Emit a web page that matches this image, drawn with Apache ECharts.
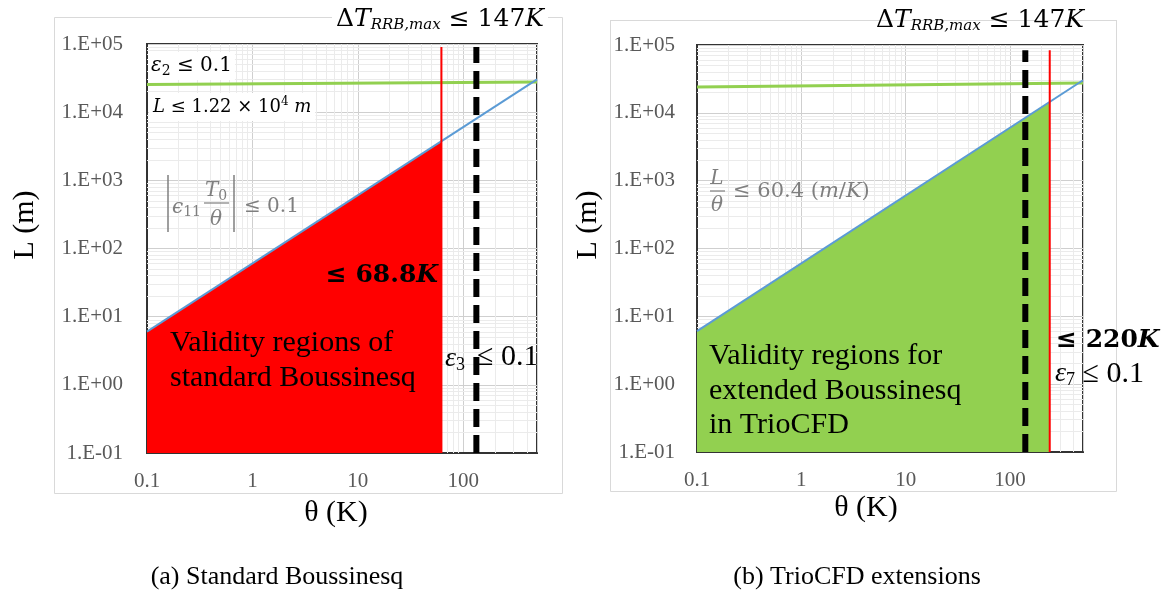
<!DOCTYPE html>
<html>
<head>
<meta charset="utf-8">
<script src="https://cdn.jsdelivr.net/npm/echarts@6/dist/echarts.min.js"></script>
<style>
html,body{margin:0;padding:0;background:#fff;}
#chart{width:1169px;height:597px;}
</style>
</head>
<body>
<div id="chart"></div>
<script>
// ---------- data ----------
const thetaRange = [0.1, 500];
const lengthRange = [0.1, 100000];
const minorMultipliers = [2, 3, 4, 5, 6, 7, 8, 9];
const thetaDecades = [0.1, 1, 10, 100];
const lengthDecades = [0.1, 1, 10, 100, 1000, 10000];

// (a) Standard Boussinesq
const blueA = [[0.1, 6.04], [500, 30200]];
const greenA = [[0.1, 25500], [500, 27800]];
const fillA = [[0.1, 6.04], [62, 3745]];
const redA = [[62, 0.1], [62, 90000]];
const dashA = [[133, 0.1], [133, 90000]];

// (b) TrioCFD extensions
const blueB = [[0.1, 6.04], [500, 30200]];
const greenB = [[0.1, 24000], [500, 27500]];
const fillB = [[0.1, 6.04], [240, 14500]];
const redB = [[240, 0.1], [240, 84000]];
const dashB = [[140, 0.1], [140, 84000]];

const captions = ['(a) Standard Boussinesq', '(b) TrioCFD extensions'];

// ---------- helpers ----------
const SERIF = '"Liberation Serif", "DejaVu Serif", serif';
const DJ = '"DejaVu Serif", "Liberation Serif", serif';

function minorValues(decades, maxV) {
  const out = [];
  decades.forEach(d => minorMultipliers.forEach(m => {
    const v = +(d * m).toPrecision(6);
    if (v < maxV) out.push(v);
  }));
  return out;
}
const minorX = minorValues(thetaDecades, thetaRange[1]);
const minorY = minorValues(lengthDecades, lengthRange[1]);

function fmtY(v) {
  const e = Math.round(Math.log10(v));
  const a = Math.abs(e);
  return '1.E' + (e < 0 ? '-' : '+') + (a < 10 ? '0' : '') + a;
}
function fmtX(v) {
  const e = Math.round(Math.log10(v));
  return e < 0 ? '0.1' : String(Math.pow(10, e));
}

const grids = [
  {left: 147, top: 44, width: 390, height: 409},
  {left: 697, top: 45, width: 386, height: 407}
];

function xAx(i) {
  return {
    type: 'log', logBase: 10, gridIndex: i, min: thetaRange[0], max: thetaRange[1],
    axisLine: {show: true, onZero: false, lineStyle: {color: '#333', width: 2}},
    axisTick: {show: false},
    axisLabel: {margin: 18, showMaxLabel: false, formatter: fmtX,
      fontFamily: SERIF, fontSize: 21, color: '#595959'},
    splitLine: {show: true, lineStyle: {color: '#cfcfcf', width: 1}}
  };
}
function yAx(i, margin) {
  return {
    type: 'log', logBase: 10, gridIndex: i, min: lengthRange[0], max: lengthRange[1],
    axisLine: {show: true, onZero: false, lineStyle: {color: '#333', width: 2}},
    axisTick: {show: false},
    axisLabel: {margin: margin, formatter: fmtY, fontFamily: SERIF, fontSize: 21, color: '#595959'},
    splitLine: {show: true, lineStyle: {color: '#cfcfcf', width: 1}}
  };
}

function seriesFor(i, blue, green, fill, red, dash, fillColor) {
  const base = {type: 'line', xAxisIndex: i, yAxisIndex: i, showSymbol: false, symbol: 'none',
    silent: true, animation: false};
  return [
    Object.assign({}, base, {
      z: 1, data: [[0.1, 0.1]], lineStyle: {opacity: 0},
      markLine: {silent: true, z: 1, symbol: 'none', animation: false, label: {show: false},
        lineStyle: {color: '#ebebeb', width: 1, type: 'solid'},
        emphasis: {disabled: true},
        data: minorX.map(v => ({xAxis: v})).concat(minorY.map(v => ({yAxis: v})))}
    }),
    Object.assign({}, base, {z: 2, data: fill, lineStyle: {width: 0},
      areaStyle: {color: fillColor, opacity: 1, origin: 'start'}}),
    Object.assign({}, base, {z: 3, data: green, lineStyle: {color: '#92d050', width: 3}}),
    Object.assign({}, base, {z: 4, data: blue, lineStyle: {color: '#5b9bd5', width: 2}}),
    Object.assign({}, base, {z: 5, data: red, lineStyle: {color: '#ff0000', width: 2}}),
    Object.assign({}, base, {z: 6, data: dash, lineStyle: {color: '#000', width: 6, type: [18, 8]}})
  ];
}

function R(size, family, extra) {
  return Object.assign({fontSize: size, fontFamily: family, fill: '#000'}, extra || {});
}
function T(x, y, text, rich, extra, rot) {
  const el = {type: 'text', x: x, y: y, z: 100, silent: true,
    style: Object.assign({text: text, rich: rich || {}, fill: '#000', align: 'left',
      verticalAlign: 'middle', font: '20px ' + SERIF}, extra || {})};
  if (rot) el.rotation = rot;
  return el;
}
function L(x1, y1, x2, y2, color, w) {
  return {type: 'line', z: 100, silent: true, shape: {x1, y1, x2, y2},
    style: {stroke: color, lineWidth: w}};
}

const gray = '#7f7f7f';

const dtRich = {
  d: R(25, DJ), t: R(25, DJ, {fontStyle: 'italic'}),
  s: R(15, DJ, {fontStyle: 'italic', padding: [12, 0, 0, 0]})
};
const dtText = '{d|Δ}{t|T}{s|RRB,max}{d| ≤ 147}{t|K}';

const graphics = [
  // panel frames
  {type: 'rect', z: -1, shape: {x: 54.5, y: 17.5, width: 508, height: 476},
    style: {fill: '#fff', stroke: '#d9d9d9', lineWidth: 1}},
  {type: 'rect', z: -1, shape: {x: 610.5, y: 20.5, width: 506, height: 471},
    style: {fill: '#fff', stroke: '#d9d9d9', lineWidth: 1}},
  // right frame top edge over the title text
  L(610, 20.5, 1117, 20.5, '#d9d9d9', 1),

  // axis names
  T(25, 225, 'L (m)', null, {font: '30px ' + SERIF, align: 'center'}, Math.PI / 2),
  T(588, 225, 'L (m)', null, {font: '30px ' + SERIF, align: 'center'}, Math.PI / 2),
  T(336, 513, 'θ (K)', null, {font: '30px ' + SERIF, align: 'center'}),
  T(866, 508, 'θ (K)', null, {font: '30px ' + SERIF, align: 'center'}),

  // titles
  T(440, 19, dtText, dtRich, {align: 'center', backgroundColor: '#fff', padding: [0, 4]}),
  T(980, 20, dtText, dtRich, {align: 'center'}),

  // ---- panel (a) annotations ----
  T(148, 66, '{e|ε}{s|2}{n| ≤ 0.1}',
    {e: R(20, DJ, {fontStyle: 'italic'}), s: R(14, DJ, {padding: [10, 0, 0, 0]}), n: R(20, DJ)},
    {backgroundColor: '#fff', padding: [2, 3, 2, 3]}),
  T(149, 107, '{i|L}{n| ≤ 1.22 × 10}{p|4}{i| m}',
    {i: R(18, DJ, {fontStyle: 'italic'}), n: R(18, DJ), p: R(12, DJ, {padding: [0, 0, 10, 0]})},
    {backgroundColor: '#fff', padding: [3, 4, 3, 4]}),

  L(168, 175, 168, 232, gray, 1.5),
  L(234, 175, 234, 232, gray, 1.5),
  T(172, 208, '{i|ϵ}{s|11}', {i: R(20, DJ, {fontStyle: 'italic', fill: gray}),
    s: R(14, DJ, {fill: gray, padding: [8, 0, 0, 0]})}),
  T(216, 191, '{i|T}{s|0}', {i: R(20, DJ, {fontStyle: 'italic', fill: gray}),
    s: R(14, DJ, {fill: gray, padding: [10, 0, 0, 0]})}, {align: 'center'}),
  L(204, 203, 229, 203, gray, 1.2),
  T(216, 220, '{i|θ}', {i: R(20, DJ, {fontStyle: 'italic', fill: gray})}, {align: 'center'}),
  T(244, 207, '{n|≤ 0.1}', {n: R(20, DJ, {fill: gray})}),

  T(438, 275, '{n|≤ 68.8}{k|K}',
    {n: R(25, DJ, {fontWeight: 'bold'}), k: R(25, DJ, {fontWeight: 'bold', fontStyle: 'italic'})},
    {align: 'right'}),
  T(170, 343, 'Validity regions of', null, {font: '30px ' + SERIF}),
  T(170, 378, 'standard Boussinesq', null, {font: '30px ' + SERIF}),
  T(445, 359, '{e|ε}{s|3}', {e: R(28, SERIF, {fontStyle: 'italic'}),
    s: R(18, SERIF, {padding: [12, 0, 0, 0]})}),
  T(477, 357, '{n|≤ 0.1}', {n: R(30, SERIF)}),

  // ---- panel (b) annotations ----
  T(717, 179, '{i|L}', {i: R(20, DJ, {fontStyle: 'italic', fill: gray})}, {align: 'center'}),
  L(710, 191, 725, 191, gray, 1.2),
  T(717, 206, '{i|θ}', {i: R(20, DJ, {fontStyle: 'italic', fill: gray})}, {align: 'center'}),
  T(733, 192, '{n|≤ 60.4 (}{i|m}{n|/}{i|K}{n|)}',
    {n: R(21, DJ, {fill: gray}), i: R(21, DJ, {fill: gray, fontStyle: 'italic'})}),
  T(709, 356, 'Validity regions for', null, {font: '30px ' + SERIF}),
  T(709, 391, 'extended Boussinesq', null, {font: '30px ' + SERIF}),
  T(709, 425, 'in TrioCFD', null, {font: '30px ' + SERIF}),
  T(1056, 340, '{n|≤ 220}{k|K}',
    {n: R(25, DJ, {fontWeight: 'bold'}), k: R(25, DJ, {fontWeight: 'bold', fontStyle: 'italic'})}),
  T(1055, 374, '{e|ε}{s|7}{n| ≤ 0.1}', {e: R(28, SERIF, {fontStyle: 'italic'}),
    s: R(18, SERIF, {padding: [12, 0, 0, 0]}), n: R(30, SERIF)}),

  // captions
  T(277, 577, captions[0], null, {font: '26px ' + SERIF, align: 'center'}),
  T(857, 577, captions[1], null, {font: '26px ' + SERIF, align: 'center'})
];

const option = {
  backgroundColor: '#fff',
  animation: false,
  grid: grids.map(g => Object.assign({show: true, backgroundColor: '#fff', borderColor: '#333',
    borderWidth: 2, containLabel: false}, g)),
  xAxis: [xAx(0), xAx(1)],
  yAxis: [yAx(0, 24), yAx(1, 22)],
  series: seriesFor(0, blueA, greenA, fillA, redA, dashA, '#ff0000')
    .concat(seriesFor(1, blueB, greenB, fillB, redB, dashB, '#92d050')),
  graphic: graphics
};

const chart = echarts.init(document.getElementById('chart'), null, {renderer: 'canvas'});
chart.setOption(option);
</script>
</body>
</html>
